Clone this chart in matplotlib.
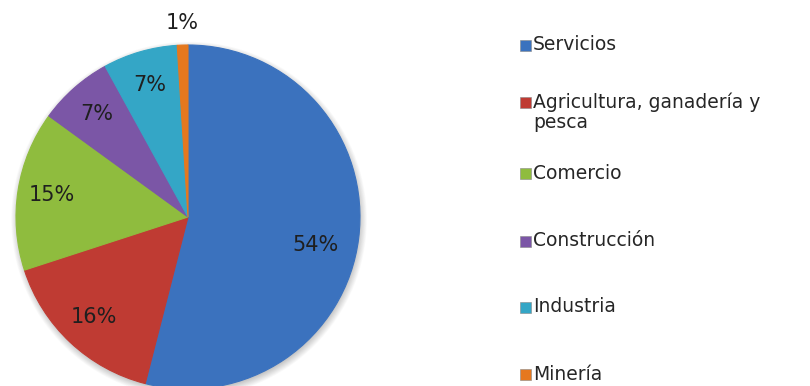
import matplotlib.pyplot as plt
import numpy as np

sectores = ['Servicios', 'Agricultura, ganadería y\npesca', 'Comercio',
            'Construcción', 'Industria', 'Minería']
porcentajes = [54, 16, 15, 7, 7, 1]
colores = ['#3B72BE', '#BF3B33', '#8FBC3E', '#7B56A6', '#34A6C6', '#E5781E']

fig = plt.figure(figsize=(8.1, 3.86), dpi=100)

# pie centred at (188, 217) px with radius 172 px
cx, cy, r = 188, 217, 172
W, H = 810, 386
ax = fig.add_axes([(cx - r) / W, (H - cy - r) / H, 2 * r / W, 2 * r / H])

# soft shadow under the pie
for k in range(12):
    ax.add_patch(plt.Circle((0.006, -0.015), 0.99 + 0.004 * k, color='k',
                            alpha=0.018, lw=0, zorder=0, clip_on=False))

wedges, _ = ax.pie(porcentajes, colors=colores, startangle=90, counterclock=False,
                   radius=1.0, wedgeprops=dict(linewidth=0.8, zorder=2))
for w, c in zip(wedges, colores):
    w.set_edgecolor(c)
    w.set_clip_on(False)
ax.set_xlim(-1, 1)
ax.set_ylim(-1, 1)

# percentage labels
for w, p in zip(wedges, porcentajes):
    ang = np.deg2rad((w.theta1 + w.theta2) / 2)
    d = 1.13 if p < 3 else 0.8
    if p > 50:
        ang -= np.deg2rad(5)
        d = 0.76
    ax.text(d * np.cos(ang), d * np.sin(ang), f'{p}%', ha='center', va='center',
            fontsize=15, color='#1f1f1f', zorder=3)

# legend on the right
slots = [45, 112, 173, 241, 307, 374]
for lab, c, y in zip(sectores, colores, slots):
    lines = lab.split('\n')
    y0 = y - (len(lines) - 1) * 10
    fig.patches.append(plt.Rectangle((520 / W, 1 - (y0 + 5.5) / H), 11 / W, 11 / H,
                                     transform=fig.transFigure, facecolor=c,
                                     edgecolor='#888888', linewidth=0.4))
    for k, t in enumerate(lines):
        fig.text(533 / W, 1 - (y0 + 20 * k) / H, t, ha='left', va='center',
                 fontsize=13.5, color='#262626')

fig.savefig('out.png', dpi=100)
